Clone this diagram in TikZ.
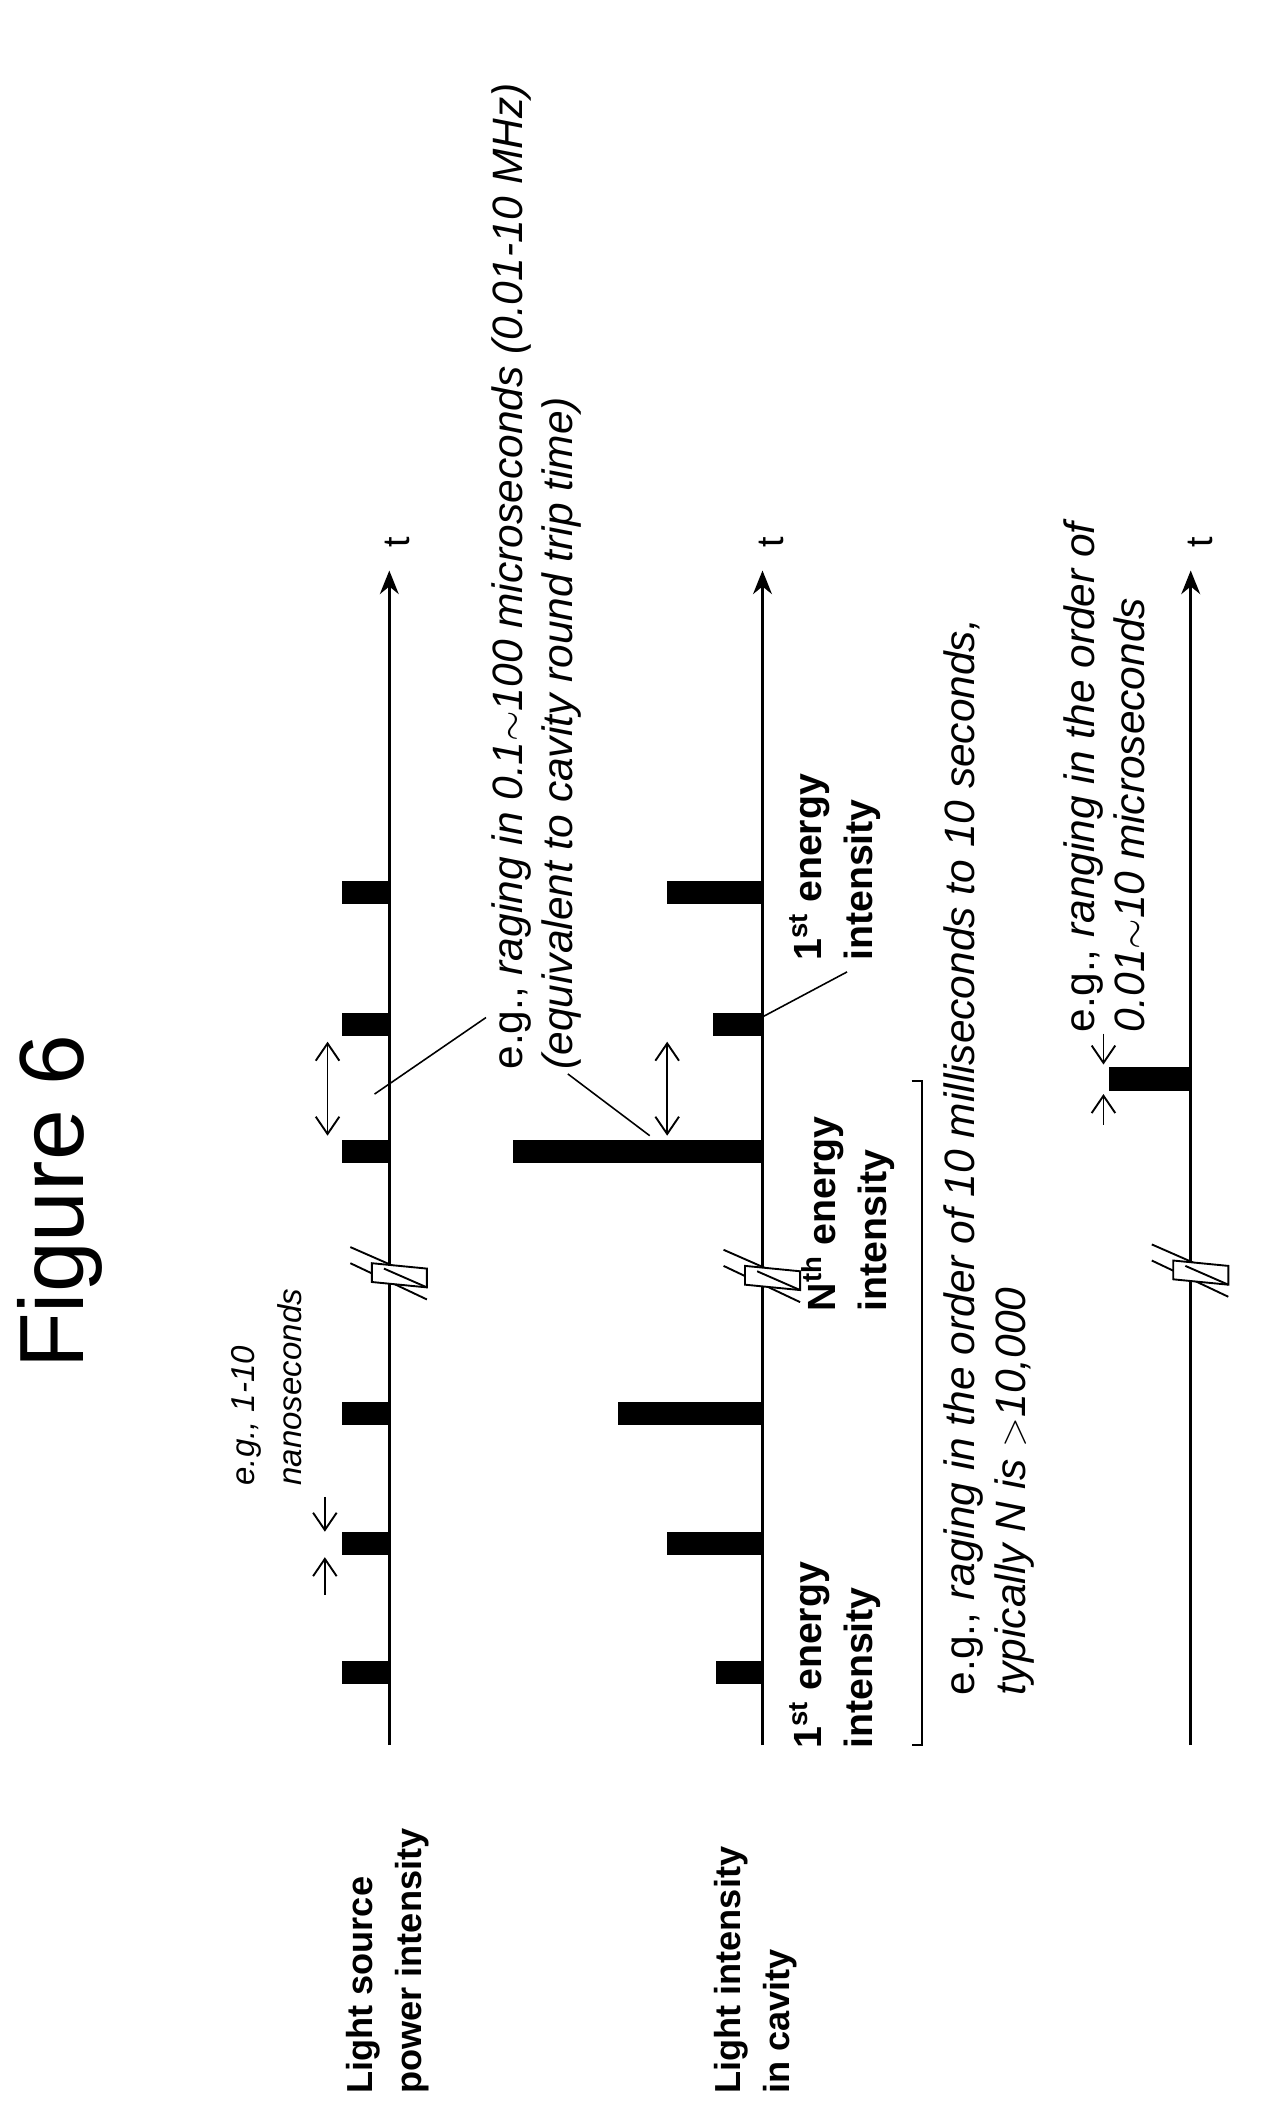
\documentclass[tikz,border=0pt]{standalone}
\usepackage{fontspec}
\setmainfont{Liberation Sans}
\usetikzlibrary{arrows.meta}
\tikzset{
 bar/.style={fill=black,draw=none},
 axisline/.style={line width=1.6pt,-{Stealth[length=15pt,width=12pt]}},
 lbl/.style={rotate=90,font=\fontsize{23}{31}\selectfont\bfseries,align=left,inner sep=0pt},
 elbl/.style={rotate=90,font=\fontsize{25}{32}\selectfont\bfseries,align=left,inner sep=0pt},
 note/.style={rotate=90,font=\fontsize{27}{32}\selectfont\itshape,align=left,inner sep=0pt},
 dbl/.style={line width=1.2pt,{Straight Barb[length=11pt,width=15pt]}-{Straight Barb[length=11pt,width=15pt]}},
 sgl/.style={line width=1.2pt,-{Straight Barb[length=11pt,width=15pt]}},
 leader/.style={line width=1pt},
 brk/.style={line width=1.2pt}
}
\newcommand{\mybrk}[2]{%
 \draw[brk] (#1-29,#2-21) -- (#1+28,#2+4);
 \draw[brk] (#1-29,#2-9) -- (#1+28,#2+18);
 \draw[brk,fill=white] (#1-13,#2-9) -- (#1+28,#2-5) -- (#1+28,#2+9) -- (#1-13,#2+5) -- cycle;
 \draw[brk] (#1-4,#2-5) -- (#1+28,#2+9);
}
\begin{document}
\begin{tikzpicture}[x=0.03cm,y=-0.03cm]
\useasboundingbox (0,0) rectangle (940,1580);
\node[rotate=90,font=\fontsize{58}{60}\selectfont] (title) at (45,895) {Figure 6};
% labels
\node[lbl,anchor=north west] (l1) at (258,1560) {Light source\\power intensity};
\node[lbl,anchor=north west] (l2) at (532,1560) {Light intensity\\in cavity};
% axes
\coordinate (a1s) at (290,1300); \coordinate (a1e) at (290,425);
\coordinate (a2s) at (568,1300); \coordinate (a2e) at (568,425);
\coordinate (a3s) at (887,1300); \coordinate (a3e) at (887,425);
\draw[axisline] (a1s) -- (a1e);
\draw[axisline] (a2s) -- (a2e);
\draw[axisline] (a3s) -- (a3e);
\node[rotate=90,font=\fontsize{24}{26}\selectfont] (t1) at (296,404) {t};
\node[rotate=90,font=\fontsize{24}{26}\selectfont] (t2) at (575,404) {t};
\node[rotate=90,font=\fontsize{24}{26}\selectfont] (t3) at (894,404) {t};
% axis 1 pulses
\foreach \y in {1246,1150,1053,858,763,665}{\fill[bar] (255,\y-8.5) rectangle (290,\y+8.5);}
% axis 2 pulses
\foreach \y/\x in {1246/533,1150/497,1053/460,858/382,763/531,665/497}{\fill[bar] (\x,\y-8.5) rectangle (568,\y+8.5);}
% axis 3 pulse
\fill[bar] (826,795) rectangle (887,813);
% breaks
\mybrk{290}{950}
\mybrk{568}{952}
\mybrk{887}{948}
% nanoseconds arrows
\draw[sgl] (242,1115) -- (242,1141);
\draw[sgl] (242,1188) -- (242,1160);
\node[note,font=\fontsize{21}{30}\selectfont\itshape,anchor=north east] (n1) at (172,960) {e.g., 1-10\\nanoseconds};
% period arrows
\draw[dbl] (244,776) -- (244,846);
\draw[dbl] (497,776) -- (497,846);
\node[note,anchor=north west] (n2) at (366,797) {{\upshape e.g.,} raging in 0.1$\sim$100 microseconds (0.01-10 MHz)\\(equivalent to cavity round trip time)};
\draw[leader] (279,815) -- (362,758);
\draw[leader] (423,800) -- (484,846);
% energy labels
\node[elbl,anchor=north west] (e1) at (588,1303) {1\textsuperscript{st} energy\\intensity};
\node[elbl,anchor=north west] (eN) at (597,977) {N\textsuperscript{th} energy\\intensity};
\node[elbl,anchor=north west] (e2) at (588,716) {1\textsuperscript{st} energy\\intensity};
\draw[leader] (569,757) -- (631,724);
% bracket
\draw[line width=1.2pt] (679,805) -- (687,805) -- (687,1300) -- (679,1300);
\node[note,anchor=north west] (n3) at (703,1263) {{\upshape e.g.,} raging in the order of 10 milliseconds to 10 seconds,\\typically N is $>$10,000};
% axis 3 note
\draw[sgl] (822,770) -- (822,793);
\draw[sgl] (822,838) -- (822,815);
\node[note,anchor=north west] (n4) at (792,769) {{\upshape e.g.,} ranging in the order of\\0.01$\sim$10 microseconds};
\end{tikzpicture}
\end{document}
